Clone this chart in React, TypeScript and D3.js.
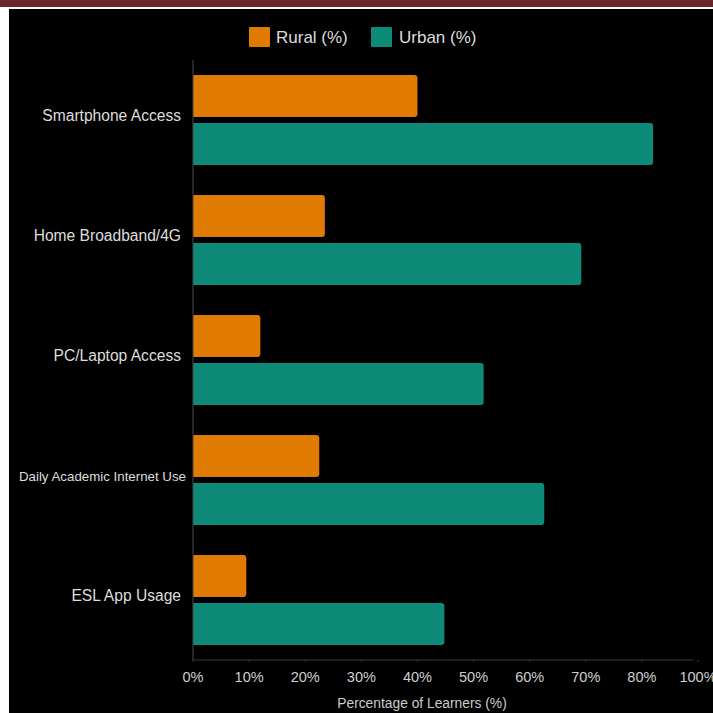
import React from "react";
import * as d3 from "d3";

const categories = [
  "Smartphone Access",
  "Home Broadband/4G",
  "PC/Laptop Access",
  "Daily Academic Internet Use",
  "ESL App Usage",
];
const ruralValues = [40, 23.5, 12, 22.5, 9.5];
const urbanValues = [82, 69.2, 51.8, 62.6, 44.8];
const seriesNames = ["Rural (%)", "Urban (%)"];
const seriesColors = ["#E07B00", "#0E8A78"];
const tickValues = [0, 10, 20, 30, 40, 50, 60, 70, 80, 90];
const tickLabels = ["0%", "10%", "20%", "30%", "40%", "50%", "60%", "70%", "80%", "100%"];

const W = 713;
const H = 713;
const FONT = "'Liberation Sans', Arial, Helvetica, sans-serif";

function barPath(x0: number, x1: number, y: number, h: number, r: number) {
  const rr = Math.min(r, (x1 - x0) / 2, h / 2);
  return `M${x0},${y}H${x1 - rr}Q${x1},${y} ${x1},${y + rr}V${y + h - rr}Q${x1},${y + h} ${x1 - rr},${y + h}H${x0}Z`;
}

export default function App() {
  const x = d3.scaleLinear().domain([0, 90]).range([193, 698]);
  const y = d3
    .scaleBand<string>()
    .domain(categories)
    .range([60, 660])
    .paddingInner(0.25)
    .paddingOuter(0.125);
  const ySub = d3
    .scaleBand<string>()
    .domain(seriesNames)
    .range([0, y.bandwidth()])
    .paddingInner(0.125);
  const series = [ruralValues, urbanValues];
  const axisY = 660;

  return (
    <div style={{ position: "fixed", left: 0, top: 0, width: W, height: H }}>
      <svg width={W} height={H} style={{ display: "block" }}>
        <rect x={0} y={0} width={W} height={H} fill="#ffffff" />
        <rect x={0} y={0} width={W} height={7} fill="#6A2326" />
        <rect x={9} y={9} width={W - 9} height={H - 9} fill="#000000" />

        {/* legend */}
        <g fontFamily={FONT} fontSize={17} fill="#dddddd">
          <rect x={249} y={27} width={21} height={20} fill={seriesColors[0]} rx={1} />
          <text x={276} y={43}>{seriesNames[0]}</text>
          <rect x={371} y={27} width={21} height={20} fill={seriesColors[1]} rx={1} />
          <text x={399} y={43}>{seriesNames[1]}</text>
        </g>

        {/* bars */}
        {categories.map((c, i) => (
          <g key={c}>
            {series.map((vals, s) => (
              <path
                key={s}
                d={barPath(
                  x(0),
                  x(vals[i]),
                  (y(c) as number) + (ySub(seriesNames[s]) as number),
                  ySub.bandwidth(),
                  3
                )}
                fill={seriesColors[s]}
              />
            ))}
          </g>
        ))}

        {/* axes */}
        <line x1={x(0)} x2={x(0)} y1={60} y2={axisY} stroke="#4a4a4a" strokeWidth={1} />
        <line x1={x(0)} x2={x(89.2)} y1={axisY} y2={axisY} stroke="#3a3a3a" strokeWidth={1.2} />
        {tickValues.map((t, i) => (
          <g key={t}>
            <line x1={x(t)} x2={x(t)} y1={axisY} y2={axisY + 2} stroke="#3a3a3a" />
            <text
              x={x(t)}
              y={682}
              textAnchor="middle"
              fontFamily={FONT}
              fontSize={14.5}
              fill="#cfcfcf"
            >
              {tickLabels[i]}
            </text>
          </g>
        ))}

        {/* category labels */}
        {categories.map((c) => {
          const small = c.length > 20;
          return (
            <text
              key={c}
              x={small ? 186 : 181}
              y={(y(c) as number) + y.bandwidth() / 2 + 0.5}
              textAnchor="end"
              fontFamily={FONT}
              fontSize={small ? 13.3 : 15.6}
              fill="#dddddd"
            >
              {c}
            </text>
          );
        })}

        <text
          x={422}
          y={708}
          textAnchor="middle"
          fontFamily={FONT}
          fontSize={13.8}
          fill="#cccccc"
        >
          Percentage of Learners (%)
        </text>
      </svg>
    </div>
  );
}
